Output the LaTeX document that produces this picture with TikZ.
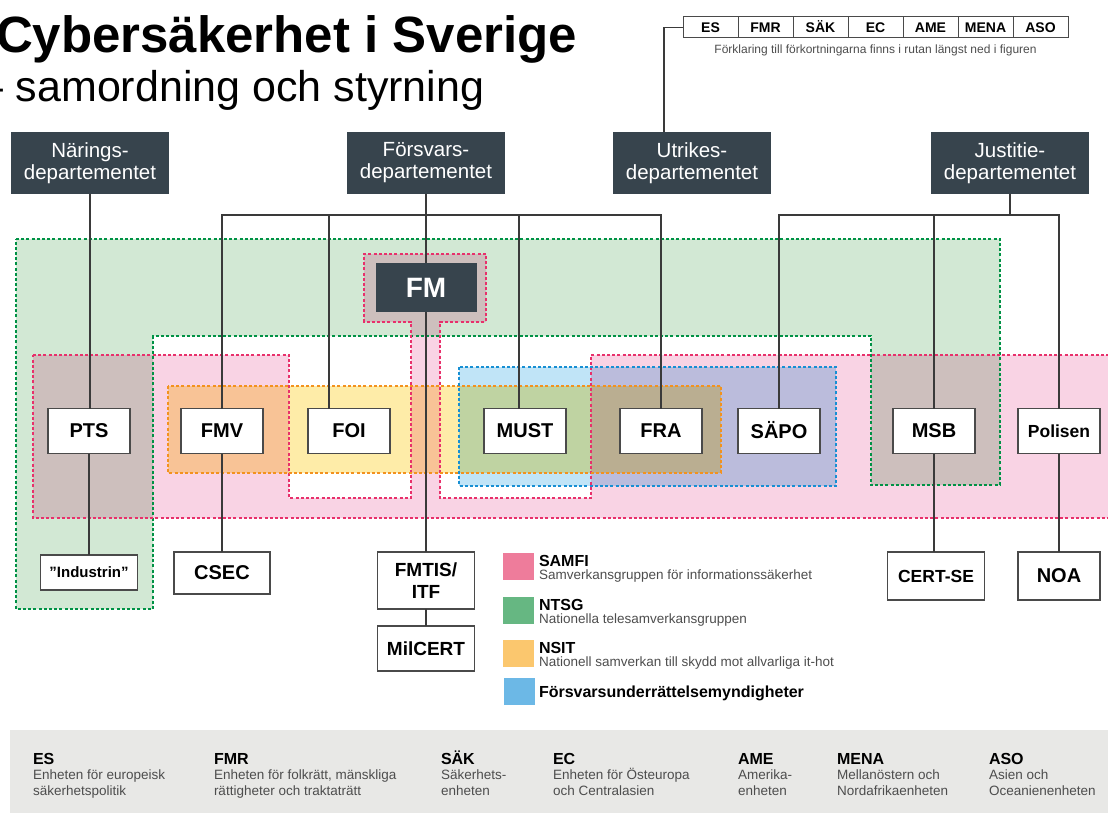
\documentclass[tikz,border=0pt]{standalone}
\usepackage{fontspec}
\setmainfont{Liberation Sans}
\usetikzlibrary{calc}

\definecolor{deptgray}{HTML}{37444D}
\definecolor{boxgray}{HTML}{4A4A4A}
\definecolor{linegray}{HTML}{3A3A3A}
\definecolor{textgray}{HTML}{4D4D4D}
\definecolor{keygray}{HTML}{E8E8E6}
% zone fills and borders
\definecolor{ntsgfill}{HTML}{D2E8D4}
\definecolor{ntsgline}{HTML}{009245}
\definecolor{samfifill}{HTML}{F9D3E4}
\definecolor{samfiline}{HTML}{E8306B}
\definecolor{nsitfill}{HTML}{FEECA8}
\definecolor{nsitline}{HTML}{F3921E}
\definecolor{fufill}{HTML}{C0E4F7}
\definecolor{fuline}{HTML}{178FD3}
% legend swatches
\definecolor{samfikey}{HTML}{EE7C9B}
\definecolor{ntsgkey}{HTML}{66B782}
\definecolor{nsitkey}{HTML}{FBC76E}
\definecolor{fukey}{HTML}{6CB8E6}

\newcommand\fsize[2]{\fontsize{#1}{#2}\selectfont}

\tikzset{%
  inner sep=0pt,%
  outer sep=0pt,%
  dept/.style={fill=deptgray,text=white,minimum width=158pt,
    minimum height=62pt,align=center,font=\fsize{20.5}{22}},%
  unit/.style={draw=boxgray,fill=white,line width=1.3pt,minimum width=82pt,
    minimum height=45pt,align=center,font=\bfseries\fsize{20}{22}},%
  link/.style={draw=linegray,line width=1.5pt},%
  zone border/.style={line width=1.8pt,dash pattern=on 3pt off 2.2pt},%
  abbcell/.style={draw=boxgray,line width=1pt,minimum width=55pt,
    minimum height=21pt,text height=10pt,text depth=0pt,
    font=\bfseries\fsize{14}{16}},%
  swatch/.style={minimum width=31pt,minimum height=27pt},%
  keytext/.style={anchor=base west,text=textgray,font=\fsize{13.5}{15}}%
}

\begin{document}
\begin{tikzpicture}[x=1pt,y=-1pt] % one unit = one pixel, y downwards

%% some definitions

\def\fbarY{215} % height of the branching bars
\useasboundingbox (0,0) rectangle (1108,813);

%% title

\node[anchor=base west,font=\bfseries\fsize{51}{56}] (title) at (-4,53)
  {Cybersäkerhet i Sverige};
\node[anchor=base west,font=\fsize{43}{48}] (subtitle) at (-20,102)
  {– samordning och styrning};

%% abbreviation strip

\foreach \lab [count=\i] in {ES,FMR,SÄK,EC,AME,MENA,ASO}
  \node[abbcell] (abb\i) at ({710.5+(\i-1)*55},27.5) {\lab};
\node[text=textgray,font=\fsize{12}{14}] (abbnote) at (875.5,50)
  {Förklaring till förkortningarna finns i rutan längst ned i figuren};

%% zones (colours multiply where they overlap)

\begin{scope}[blend mode=multiply]
  \fill[ntsgfill] (16,239) -- (1000,239) -- (1000,485) -- (871,485)
    -- (871,336) -- (153,336) -- (153,609) -- (16,609) -- cycle;
  \fill[samfifill] (33,355) -- (289,355) -- (289,498) -- (411,498)
    -- (411,322) -- (364,322) -- (364,254) -- (486,254) -- (486,322)
    -- (440,322) -- (440,498) -- (591,498) -- (591,355) -- (1115,355)
    -- (1115,518) -- (33,518) -- cycle;
  \fill[nsitfill] (168,386) rectangle (721,473);
  \fill[fufill] (459,367) rectangle (836,486);
\end{scope}

\draw[zone border,ntsgline] (16,239) -- (1000,239) -- (1000,485) -- (871,485)
  -- (871,336) -- (153,336) -- (153,609) -- (16,609) -- cycle;
\draw[zone border,samfiline] (33,355) -- (289,355) -- (289,498) -- (411,498)
  -- (411,322) -- (364,322) -- (364,254) -- (486,254) -- (486,322)
  -- (440,322) -- (440,498) -- (591,498) -- (591,355) -- (1115,355)
  -- (1115,518) -- (33,518) -- cycle;
\draw[zone border,nsitline] (168,386) rectangle (721,473);
\draw[zone border,fuline] (459,367) rectangle (836,486);

%% departments

\node[dept] (ND) at (90,163) {Närings-\\departementet};
\node[dept] (FD) at (426,163) {Försvars-\\departementet};
\node[dept] (UD) at (692,163) {Utrikes-\\departementet};
\node[dept] (JD) at (1010,163) {Justitie-\\departementet};

%% authorities

\node[fill=deptgray,text=white,minimum width=101pt,minimum height=49pt,
  font=\bfseries\fsize{28}{30}] (FM) at (426,287.5) {FM};
\node[unit] (PTS) at (89,431) {PTS};
\node[unit] (FMV) at (222,431) {FMV};
\node[unit] (FOI) at (349,431) {FOI};
\node[unit] (MUST) at (525,431) {MUST};
\node[unit] (FRA) at (661,431) {FRA};
\node[unit,text height=14.3pt,text depth=0pt] (SAPO) at (779,431) {SÄPO};
\node[unit] (MSB) at (934,431) {MSB};
\node[unit,font=\bfseries\fsize{17.5}{20}] (POL) at (1059,431) {Polisen};

\node[unit,minimum width=97pt,minimum height=35pt,
  font=\bfseries\fsize{15}{17}] (IND) at (89,572.5) {”Industrin”};
\node[unit,minimum width=96pt,minimum height=42pt] (CSEC) at (222,573) {CSEC};
\node[unit,minimum width=97pt,minimum height=57pt,font=\bfseries\fsize{19}{22}]
  (FMTIS) at (426,580.5) {FMTIS/\\ITF};
\node[unit,minimum width=97pt,font=\bfseries\fsize{19}{22}] (MIL) at (426,648.5)
  {MilCERT};
\node[unit,minimum width=97pt,minimum height=48pt,font=\bfseries\fsize{17.5}{20}]
  (CERT) at (936,576) {CERT-SE};
\node[unit,minimum height=48pt] (NOA) at (1059,576) {NOA};

%% lines

\draw[link,line width=1.2pt] ([xshift=-28pt]UD.north) |- (abb1.west);
\draw[link] (ND.south) -- (ND.south |- PTS.north);
\draw[link] (PTS.south) -- (IND.north);
% Försvarsdepartementet
\draw[link] (FD.south) -- (FD.south |- FM.north);
\draw[link] (FMV.north) |- (FRA.north |- 0,\fbarY) -- (FRA.north);
\draw[link] ([xshift=-20pt]FOI.north) -- ([xshift=-20pt]FOI.north |- 0,\fbarY);
\draw[link] ([xshift=-6pt]MUST.north) -- ([xshift=-6pt]MUST.north |- 0,\fbarY);
\draw[link] (FM.south) -- (FMTIS.north);
\draw[link] (FMTIS.south) -- (MIL.north);
\draw[link] (FMV.south) -- (CSEC.north);
% Justitiedepartementet
\draw[link] (JD.south) -- (JD.south |- 0,\fbarY);
\draw[link] (SAPO.north) |- (POL.north |- 0,\fbarY) -- (POL.north);
\draw[link] (MSB.north) -- (MSB.north |- 0,\fbarY);
\draw[link] (MSB.south) -- (MSB.south |- CERT.north);
\draw[link] (POL.south) -- (NOA.north);

%% legend

\foreach \col/\ab/\desc/\top [count=\i] in {%
    samfikey/SAMFI/Samverkansgruppen för informationssäkerhet/553,
    ntsgkey/NTSG/Nationella telesamverkansgruppen/597,
    nsitkey/NSIT/Nationell samverkan till skydd mot allvarliga it-hot/640}{
  \node[swatch,fill=\col,anchor=north west] (sw\i) at (503,\top) {};
  \node[anchor=base west,font=\bfseries\fsize{16}{18}] (lg\i) at (539,\top+13) {\ab};
  \node[keytext] (ld\i) at (539,\top+26) {\desc};
}
\node[swatch,fill=fukey,anchor=north west] (sw4) at (504,678) {};
\node[anchor=base west,font=\bfseries\fsize{16}{18}] (lg4) at (539,697)
  {Försvarsunderrättelsemyndigheter};

%% key to the abbreviations

\fill[keygray] (10,730) rectangle (1108,813);
\foreach \x/\ab/\la/\lb [count=\i] in {%
    33/ES/Enheten för europeisk/säkerhetspolitik,
    214/FMR/{Enheten för folkrätt, mänskliga}/rättigheter och traktaträtt,
    441/SÄK/Säkerhets-/enheten,
    553/EC/Enheten för Östeuropa/och Centralasien,
    738/AME/Amerika-/enheten,
    837/MENA/Mellanöstern och/Nordafrikaenheten,
    989/ASO/Asien och/Oceanienenheten}{
  \node[anchor=base west,font=\bfseries\fsize{16}{18}] (key\i) at (\x,764) {\ab};
  \node[keytext] (key\i a) at (\x,779) {\la};
  \node[keytext] (key\i b) at (\x,795) {\lb};
}

\end{tikzpicture}
\end{document}
